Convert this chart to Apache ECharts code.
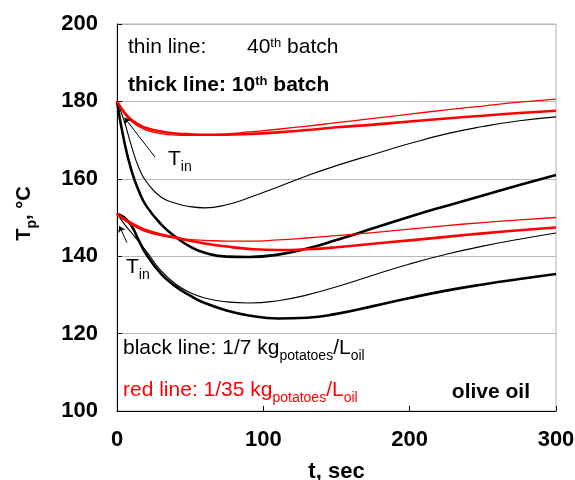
<!DOCTYPE html>
<html>
<head>
<meta charset="utf-8">
<script src="https://cdn.jsdelivr.net/npm/echarts@6/dist/echarts.min.js"></script>
<style>
  html, body { margin: 0; padding: 0; background: #fff; }
  #chart { width: 575px; height: 480px; }
</style>
</head>
<body>
<div id="chart"></div>
<script>
// Sampling times, s
const times = [0, 5, 10, 15, 20, 30, 40, 50, 60, 75, 90, 110, 130, 150, 175, 200, 225, 250, 275, 300];

// Oil initially at 180 °C
const hiBlackThick = [180, 169.5, 162, 156.8, 153, 148.3, 145, 142.5, 140.9, 139.9, 139.8, 140.4, 142, 144.2, 147.2, 150.2, 153, 155.7, 158.4, 161];
const hiBlackThin  = [180, 174.8, 168.3, 162.8, 159.3, 155.3, 153.7, 152.8, 152.5, 153.3, 155.1, 157.9, 160.8, 163.4, 166.3, 169.1, 171.6, 173.5, 175, 176];
const hiRedThick   = [180, 177.2, 175.2, 174, 173.1, 172.2, 171.7, 171.5, 171.4, 171.4, 171.6, 172, 172.6, 173.3, 174, 174.8, 175.6, 176.3, 177, 177.6];
const hiRedThin    = [180, 176.8, 174.8, 173.5, 172.6, 171.7, 171.3, 171.2, 171.3, 171.6, 172.1, 172.8, 173.6, 174.5, 175.6, 176.7, 177.8, 178.8, 179.8, 180.6];

// Oil initially at 151 °C
const loBlackThick = [151, 150, 147.8, 144, 140.5, 135.5, 132.2, 129.8, 127.9, 126, 124.7, 123.9, 124.1, 125.1, 127.1, 129.2, 131.1, 132.7, 134.1, 135.4];
const loBlackThin  = [151, 148.3, 146, 143.7, 141.3, 136.3, 132.8, 130.6, 129.2, 128.2, 127.9, 128.5, 130, 132.1, 135.1, 138, 140.5, 142.6, 144.4, 146];
const loRedThick   = [151, 149.6, 148.5, 147.5, 146.7, 145.6, 144.8, 144, 143.3, 142.5, 141.9, 141.6, 141.8, 142.3, 143.2, 144.1, 145, 145.9, 146.7, 147.4];
const loRedThin    = [151, 149.3, 148.1, 147.1, 146.3, 145.3, 144.7, 144.3, 144.1, 143.9, 143.9, 144.2, 144.7, 145.3, 146.1, 147, 147.9, 148.7, 149.4, 150];

// T_in pointers: [from label, to curve start] in (t, T)
const tinArrowHi = [[26, 165.6], [5.1, 175.8]];
const tinArrowLo = [[6.8, 143.5], [1.6, 147.8]];

// Axis ticks
const xTicks = { min: 0, max: 300, interval: 100 };
const yTicks = { min: 100, max: 200, interval: 20 };

const FONT = '"Liberation Sans", Arial, Helvetica, sans-serif';

function pairs(vals) {
  return times.map((t, i) => [t, vals[i]]);
}

function curve(name, vals, color, width) {
  return {
    name: name,
    type: 'line',
    data: pairs(vals),
    smooth: 0.5,
    showSymbol: false,
    symbol: 'none',
    silent: true,
    lineStyle: { color: color, width: width },
    z: 3
  };
}

function arrow(coords) {
  return {
    type: 'lines',
    coordinateSystem: 'cartesian2d',
    symbol: ['none', 'arrow'],
    symbolSize: 6,
    silent: true,
    lineStyle: { color: '#000', width: 1, opacity: 1 },
    data: [{ coords: coords }],
    z: 4
  };
}

const chart = echarts.init(document.getElementById('chart'), null, { renderer: 'canvas' });

// n: body text, sup: superscript, sub: subscript
const baseRich = {
  n: { fontSize: 21, lineHeight: 22, verticalAlign: 'top', fontFamily: FONT },
  sup: { fontSize: 13, lineHeight: 14, verticalAlign: 'top', fontFamily: FONT },
  sub: { fontSize: 14, lineHeight: 25, verticalAlign: 'bottom', fontFamily: FONT }
};
function rich(color, weight) {
  const r = {};
  Object.keys(baseRich).forEach(k => {
    r[k] = Object.assign({}, baseRich[k], { fill: color, fontWeight: weight });
  });
  return r;
}
function label(x, y, text, color, weight, align) {
  return {
    type: 'text',
    x: x, y: y,
    silent: true,
    z: 10,
    style: {
      text: text,
      rich: rich(color, weight),
      align: align || 'left',
      verticalAlign: 'top'
    }
  };
}

chart.setOption({
  animation: false,
  backgroundColor: '#fff',
  grid: {
    left: 117, right: 19, top: 24, bottom: 69,
    outerBoundsMode: 'none',
    containLabel: false,
    show: true, borderColor: '#b4b4b4', borderWidth: 1
  },
  xAxis: {
    type: 'value',
    min: xTicks.min, max: xTicks.max, interval: xTicks.interval,
    name: 't, sec',
    nameLocation: 'middle',
    nameGap: 50,
    nameTextStyle: { fontFamily: FONT, fontWeight: 'bold', fontSize: 22, color: '#000' },
    axisLine: { show: true, onZero: false, lineStyle: { color: '#000', width: 1 } },
    axisTick: { show: true, inside: true, length: 5, lineStyle: { color: '#000' } },
    axisLabel: { fontFamily: FONT, fontWeight: 'bold', fontSize: 22, color: '#000', margin: 18 },
    splitLine: { show: false }
  },
  yAxis: {
    type: 'value',
    min: yTicks.min, max: yTicks.max, interval: yTicks.interval,
    name: '{n|T}{p|p}{n|, °C}',
    nameLocation: 'middle',
    nameGap: 78,
    nameRotate: 90,
    nameTextStyle: {
      color: '#000',
      padding: [0, 0, 0, 8],
      rich: {
        n: { fontFamily: FONT, fontWeight: 'bold', fontSize: 20, lineHeight: 21, verticalAlign: 'top', color: '#000' },
        p: { fontFamily: FONT, fontWeight: 'bold', fontSize: 14, lineHeight: 25, verticalAlign: 'bottom', color: '#000' }
      }
    },
    axisLine: { show: true, onZero: false, lineStyle: { color: '#000', width: 1 } },
    axisTick: { show: true, inside: true, length: 5, lineStyle: { color: '#000' } },
    axisLabel: { fontFamily: FONT, fontWeight: 'bold', fontSize: 22, color: '#000', margin: 19 },
    splitLine: { show: true, lineStyle: { color: '#b8b8b8', width: 1 } }
  },
  series: [
    curve('180 black 10th', hiBlackThick, '#000', 2.6),
    curve('180 black 40th', hiBlackThin, '#000', 1.1),
    curve('151 black 10th', loBlackThick, '#000', 2.6),
    curve('151 black 40th', loBlackThin, '#000', 1.1),
    curve('180 red 40th', hiRedThin, '#ff0000', 1.3),
    curve('151 red 40th', loRedThin, '#ff0000', 1.3),
    curve('180 red 10th', hiRedThick, '#ff0000', 2.6),
    curve('151 red 10th', loRedThick, '#ff0000', 2.6),
    arrow(tinArrowHi),
    arrow(tinArrowLo)
  ],
  graphic: [
    label(128, 37, '{n|thin line:}', '#000', 'normal'),
    label(247, 37, '{n|40}{sup|th}{n| batch}', '#000', 'normal'),
    label(128, 75, '{n|thick line: 10}{sup|th}{n| batch}', '#000', 'bold'),
    label(123, 338, '{n|black line: 1/7 kg}{sub|potatoes}{n|/L}{sub|oil}', '#000', 'normal'),
    label(123, 380, '{n|red line: 1/35 kg}{sub|potatoes}{n|/L}{sub|oil}', '#ff0000', 'normal'),
    label(530, 382, '{n|olive oil}', '#000', 'bold', 'right'),
    label(168, 149, '{n|T}{sub|in}', '#000', 'normal'),
    label(126, 257, '{n|T}{sub|in}', '#000', 'normal')
  ]
});
</script>
</body>
</html>
